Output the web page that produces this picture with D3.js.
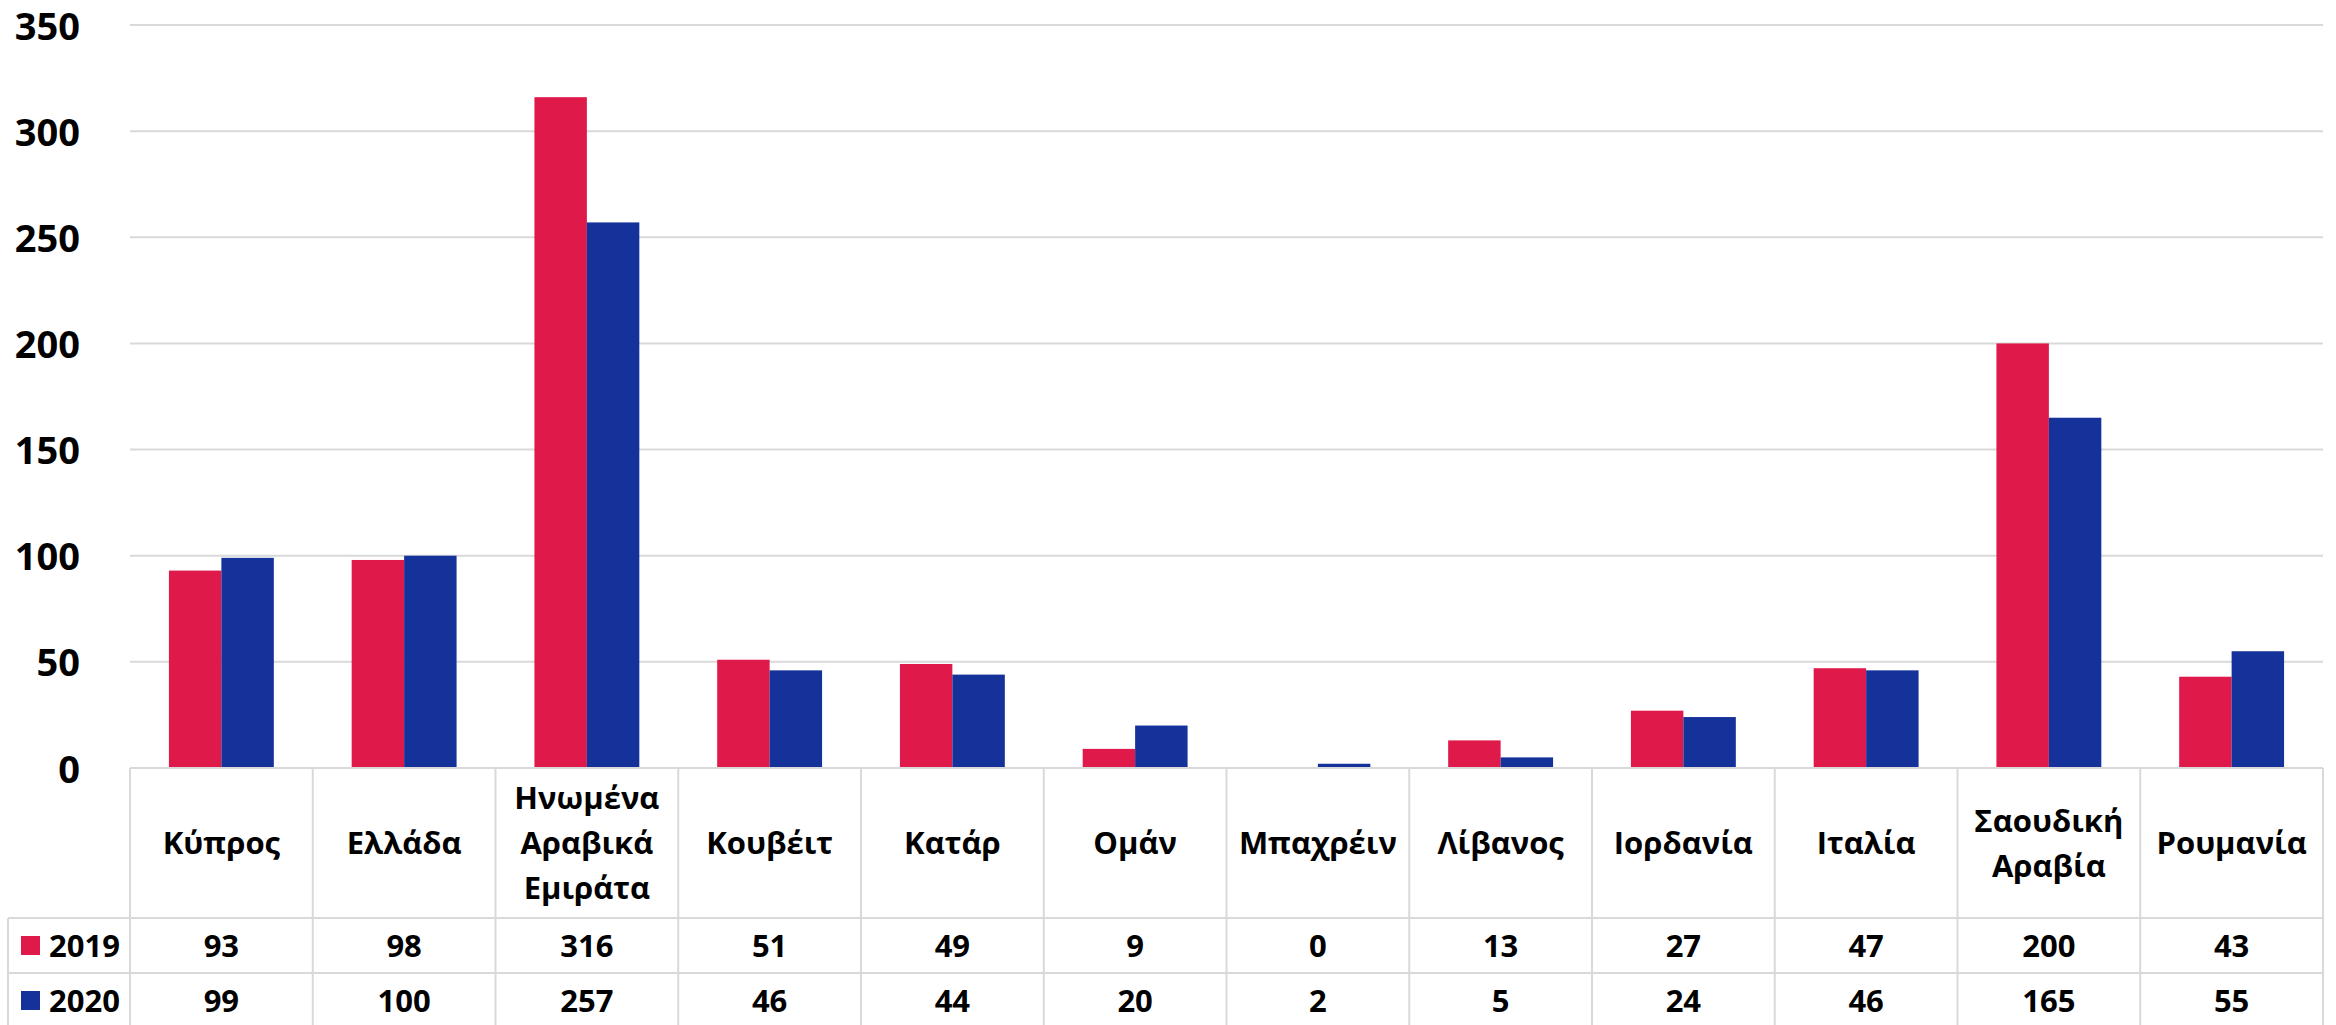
<!DOCTYPE html>
<html>
<head>
<meta charset="utf-8">
<script src="https://cdn.jsdelivr.net/npm/d3@7"></script>
<style>
  html, body { margin: 0; padding: 0; background: #fff; }
  svg { display: block; }
  text { font-family: "Open Sans", "Noto Sans", sans-serif; font-weight: 700; fill: #000; }
</style>
</head>
<body>
<svg id="chart" width="2336" height="1025"></svg>
<script>
const categories = [
  ["Κύπρος"], ["Ελλάδα"], ["Ηνωμένα", "Αραβικά", "Εμιράτα"], ["Κουβέιτ"], ["Κατάρ"], ["Ομάν"],
  ["Μπαχρέιν"], ["Λίβανος"], ["Ιορδανία"], ["Ιταλία"], ["Σαουδική", "Αραβία"], ["Ρουμανία"]
];
const seriesNames = ["2019", "2020"];
const values2019 = [93, 98, 316, 51, 49, 9, 0, 13, 27, 47, 200, 43];
const values2020 = [99, 100, 257, 46, 44, 20, 2, 5, 24, 46, 165, 55];
const yTicks = [0, 50, 100, 150, 200, 250, 300, 350];
const colors = ["#E0194B", "#14329A"];

const series = [values2019, values2020];
const svg = d3.select("#chart");

const plotLeft = 130, plotRight = 2323, plotTop = 25, zeroY = 768;
const catRowBottom = 918, row1Bottom = 973, row2Bottom = 1028;
const legendLeft = 8;

const idx = categories.map((_, i) => i);
const x = d3.scaleBand().domain(idx).range([plotLeft, plotRight]).padding(0);
const bw = x.bandwidth();
const gap = bw * 0.213;
const x1 = d3.scaleBand().domain([0, 1]).range([gap, bw - gap]).padding(0);
const y = d3.scaleLinear().domain([0, 350]).range([zeroY, plotTop]);

const gridColor = "#d9d9d9";

// gridlines
svg.append("g").selectAll("line").data(yTicks.filter(t => t > 0)).join("line")
  .attr("x1", plotLeft).attr("x2", plotRight)
  .attr("y1", d => y(d)).attr("y2", d => y(d))
  .attr("stroke", gridColor).attr("stroke-width", 2);

// y axis labels
const yAxis = d3.axisLeft(y).tickValues(yTicks).tickSize(0).tickPadding(0);
const gy = svg.append("g").attr("transform", `translate(80,0)`).call(yAxis);
gy.select(".domain").remove();
gy.selectAll("text").attr("font-size", 38).attr("font-family", "'Open Sans', sans-serif")
  .attr("font-weight", 700).attr("fill", "#000").attr("dy", "0.37em");

// bars
series.forEach((vals, s) => {
  svg.append("g").selectAll("rect").data(vals).join("rect")
    .attr("x", (d, i) => x(i) + x1(s))
    .attr("width", x1.bandwidth())
    .attr("y", d => y(d))
    .attr("height", d => zeroY - y(d))
    .attr("fill", colors[s]);
});

// table lines
const tbl = svg.append("g").attr("stroke", gridColor).attr("stroke-width", 2);
tbl.append("line").attr("x1", plotLeft).attr("x2", plotRight).attr("y1", zeroY).attr("y2", zeroY);
tbl.append("line").attr("x1", legendLeft).attr("x2", plotRight).attr("y1", catRowBottom).attr("y2", catRowBottom);
tbl.append("line").attr("x1", legendLeft).attr("x2", plotRight).attr("y1", row1Bottom).attr("y2", row1Bottom);
tbl.append("line").attr("x1", legendLeft).attr("x2", plotRight).attr("y1", row2Bottom).attr("y2", row2Bottom);
tbl.append("line").attr("x1", legendLeft).attr("x2", legendLeft).attr("y1", catRowBottom).attr("y2", row2Bottom);
tbl.selectAll("line.v").data(idx.concat([idx.length])).join("line").attr("class", "v")
  .attr("x1", d => d < idx.length ? x(d) : plotRight).attr("x2", d => d < idx.length ? x(d) : plotRight)
  .attr("y1", zeroY).attr("y2", row2Bottom);

// category labels
const catMid = (zeroY + catRowBottom) / 2;
const lh = 45;
const catG = svg.append("g");
categories.forEach((lines, i) => {
  const t = catG.append("text").attr("text-anchor", "middle").attr("font-size", 31)
    .attr("x", x(i) + bw / 2);
  lines.forEach((ln, k) => {
    t.append("tspan").attr("x", x(i) + bw / 2)
      .attr("y", catMid + (k - (lines.length - 1) / 2) * lh)
      .attr("dy", "0.36em").text(ln);
  });
});

// value rows
const rowMids = [(catRowBottom + row1Bottom) / 2, (row1Bottom + row2Bottom) / 2];
series.forEach((vals, s) => {
  svg.append("g").selectAll("text").data(vals).join("text")
    .attr("x", (d, i) => x(i) + bw / 2).attr("y", rowMids[s]).attr("dy", "0.36em")
    .attr("text-anchor", "middle").attr("font-size", 31).text(d => d);
  svg.append("rect").attr("x", 21).attr("y", rowMids[s] - 9.5).attr("width", 19).attr("height", 19)
    .attr("fill", colors[s]);
  svg.append("text").attr("x", 49).attr("y", rowMids[s]).attr("dy", "0.36em")
    .attr("font-size", 31).text(seriesNames[s]);
});
</script>
</body>
</html>
